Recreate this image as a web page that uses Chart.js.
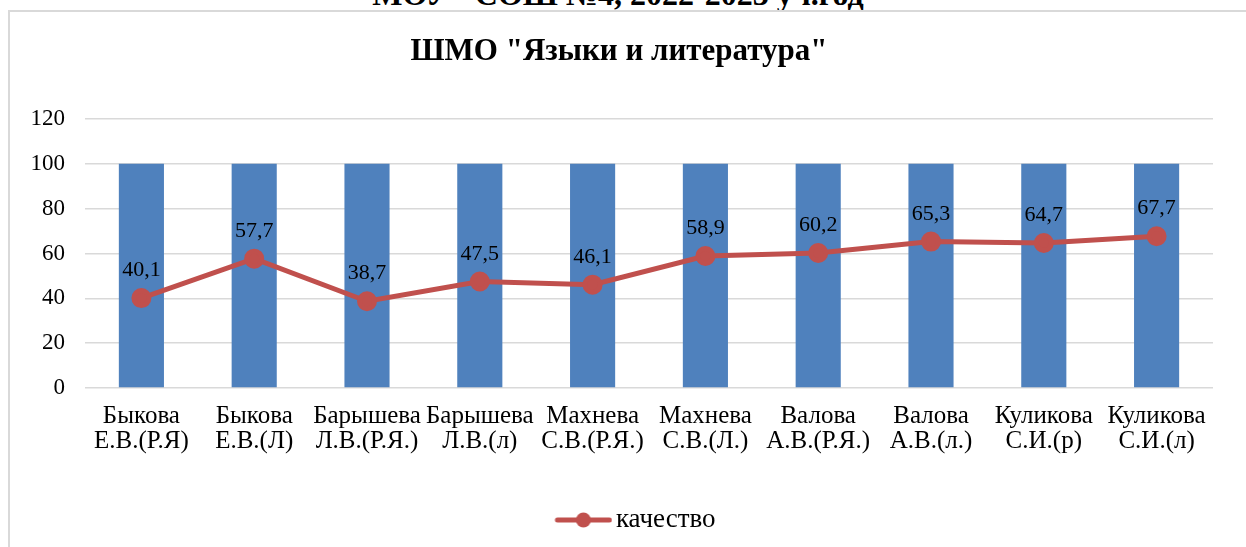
<!DOCTYPE html>
<html lang="ru">
<head>
<meta charset="utf-8">
<title>ШМО "Языки и литература"</title>
<script src="https://cdn.jsdelivr.net/npm/chart.js@4/dist/chart.umd.min.js"></script>
<style>
    html, body { margin: 0; padding: 0; background: #fff; overflow: hidden; }
    body { width: 1246px; height: 547px; position: relative; }
    #cap {
        position: absolute; left: 0; width: 1236px; top: -22px;
        text-align: center; font: bold 32px "Liberation Serif", "Times New Roman", serif;
        line-height: 32px; color: #000;
    }
    #box {
        position: absolute; left: 8px; top: 10px; width: 1236px; height: 535px;
        border-top: 2px solid #d9d9d9; border-left: 2px solid #d9d9d9; background: #fff;
    }
</style>
</head>
<body>
<div id="cap">МОУ "СОШ №4, 2022-2023 уч.год</div>
<div id="box"><canvas id="grafico" width="1236" height="535"></canvas></div>
<script>
// Datos del gráfico
const учителя = [
    ['Быкова', 'Е.В.(Р.Я)'],
    ['Быкова', 'Е.В.(Л)'],
    ['Барышева', 'Л.В.(Р.Я.)'],
    ['Барышева', 'Л.В.(л)'],
    ['Махнева', 'С.В.(Р.Я.)'],
    ['Махнева', 'С.В.(Л.)'],
    ['Валова', 'А.В.(Р.Я.)'],
    ['Валова', 'А.В.(л.)'],
    ['Куликова', 'С.И.(р)'],
    ['Куликова', 'С.И.(л)']
];
const успеваемость = [100, 100, 100, 100, 100, 100, 100, 100, 100, 100];
const качество = [40.1, 57.7, 38.7, 47.5, 46.1, 58.9, 60.2, 65.3, 64.7, 67.7];

const SERIF = '"Liberation Serif", "Times New Roman", serif';

// Icono de la leyenda: línea con marcador (margen transparente a la izquierda)
function iconoLeyenda() {
    const c = document.createElement('canvas');
    c.width = 100; c.height = 16;
    const g = c.getContext('2d');
    g.strokeStyle = '#C0504D';
    g.lineWidth = 5;
    g.lineCap = 'round';
    g.beginPath(); g.moveTo(45, 8); g.lineTo(97, 8); g.stroke();
    g.fillStyle = '#C0504D';
    g.beginPath(); g.arc(71, 8, 7.5, 0, Math.PI * 2); g.fill();
    return c;
}

// Etiquetas de valores sobre los puntos
const etiquetas = {
    id: 'etiquetas',
    afterDatasetsDraw(chart) {
        const meta = chart.getDatasetMeta(0);
        const ctx = chart.ctx;
        ctx.save();
        ctx.font = '22px ' + SERIF;
        ctx.fillStyle = '#000';
        ctx.textAlign = 'center';
        ctx.textBaseline = 'alphabetic';
        meta.data.forEach((p, i) => {
            ctx.fillText(String(качество[i]).replace('.', ','), p.x, p.y - 22);
        });
        ctx.restore();
    }
};

new Chart(document.getElementById('grafico'), {
    data: {
        labels: учителя,
        datasets: [
            {
                type: 'line',
                label: 'качество',
                data: качество,
                borderColor: '#C0504D',
                backgroundColor: '#C0504D',
                borderWidth: 5,
                pointStyle: 'circle',
                pointRadius: 7.5,
                pointHoverRadius: 7.5,
                order: 0
            },
            {
                type: 'bar',
                label: 'успеваемость',
                data: успеваемость,
                backgroundColor: '#4F81BD',
                barPercentage: 0.4,
                categoryPercentage: 1,
                order: 1
            }
        ]
    },
    options: {
        responsive: false,
        animation: false,
        layout: { padding: { left: 15, right: 33, top: 0, bottom: 3.5 } },
        plugins: {
            title: {
                display: true,
                text: 'ШМО "Языки и литература"',
                color: '#000',
                font: { family: SERIF, size: 31, weight: 'bold', lineHeight: 1.2 },
                padding: { top: 21.4, bottom: 48.4 }
            },
            legend: {
                position: 'bottom',
                labels: {
                    color: '#000',
                    font: { family: SERIF, size: 27 },
                    usePointStyle: true,
                    boxHeight: 20,
                    pointStyleWidth: 80,
                    padding: 10,
                    generateLabels: () => [{
                        text: 'качество',
                        pointStyle: iconoLeyenda(),
                        fillStyle: '#C0504D',
                        strokeStyle: '#C0504D',
                        lineWidth: 0,
                        fontColor: '#000',
                        datasetIndex: 0
                    }]
                }
            },
            tooltip: { enabled: false }
        },
        scales: {
            x: {
                grid: { display: false, drawTicks: false },
                border: { display: false },
                ticks: {
                    color: '#000',
                    font: { family: SERIF, size: 25, lineHeight: 1.0 },
                    padding: 15.5,
                    maxRotation: 0,
                    autoSkip: false
                },
                afterFit: s => { s.height = 108.5; }
            },
            y: {
                min: 0,
                max: 120,
                grid: { color: '#d9d9d9', lineWidth: 1.5, drawTicks: false },
                border: { display: false },
                ticks: {
                    stepSize: 20,
                    color: '#000',
                    font: { family: SERIF, size: 23 },
                    padding: 20
                },
                afterFit: s => { s.width = 60; }
            }
        }
    },
    plugins: [etiquetas]
});
</script>
</body>
</html>
